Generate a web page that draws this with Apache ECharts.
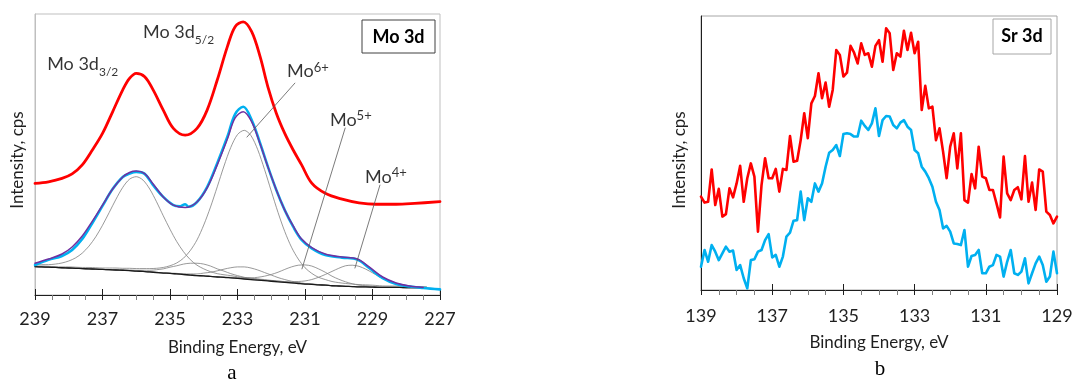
<!DOCTYPE html>
<html>
<head>
<meta charset="utf-8">
<script src="https://cdn.jsdelivr.net/npm/echarts/dist/echarts.min.js"></script>
<style>
  html, body { margin: 0; padding: 0; background: #ffffff; }
  #chart { width: 1075px; height: 383px; }
</style>
</head>
<body>
<div id="chart"></div>
<script>
// ---------- (a) Mo 3d spectrum ----------
// measured spectra, binding energy (eV) and intensity (arb. units, 0-100 scale)
const moRedBE = [239.0,238.6,238.2,237.9,237.6,237.3,237.0,236.7,236.4,236.2,236.0,235.75,235.5,235.2,234.9,234.55,234.2,233.9,233.6,233.3,233.07,232.83,232.58,232.33,232.1,231.85,231.6,231.35,231.1,230.8,230.4,229.9,229.4,228.9,228.3,227.75,227.0];
const moRedVal = [39.7,40.3,41.5,43.1,46.3,51.6,57.5,65.2,73.0,77.1,78.9,77.7,73.0,65.8,59.3,56.9,59.3,65.8,76.5,88.4,95.5,97.2,93.7,84.8,74.1,64.7,57.5,51.6,46.3,39.8,36.2,34.1,32.8,32.3,32.3,32.6,33.2];

const moBlueBE = [239.0,238.6,238.2,237.9,237.6,237.3,237.0,236.7,236.4,236.2,236.0,235.75,235.5,235.2,234.9,234.7,234.55,234.45,234.2,233.9,233.6,233.3,233.07,232.83,232.58,232.33,232.1,231.85,231.6,231.35,231.1,230.8,230.4,229.9,229.45,229.1,228.7,228.3,227.9,227.5,227.0];
const moBlueVal = [10.7,12.5,13.9,16.0,19.9,25.6,31.7,37.7,42.0,43.2,43.8,43.1,39.1,34.9,32.0,31.6,32.3,31.4,33.1,38.4,46.9,56.3,64.4,67.0,62.3,54.0,45.7,37.4,30.2,24.3,19.6,16.6,14.2,13.3,12.6,9.6,6.0,3.9,3.0,2.5,2.0];

// fitted envelope
const moFitBE = [239.0,238.6,238.2,237.9,237.6,237.3,237.0,236.7,236.4,236.2,236.0,235.75,235.5,235.2,234.9,234.55,234.2,233.9,233.6,233.3,233.07,232.83,232.58,232.33,232.1,231.85,231.6,231.35,231.1,230.8,230.4,229.9,229.45,229.1,228.7,228.3,227.9,227.5];
const moFitVal = [11.3,12.8,14.6,17.1,21.0,26.3,32.0,37.7,42.0,43.6,44.1,43.2,39.5,34.9,32.0,31.1,33.1,38.1,46.3,55.5,63.0,65.2,61.6,53.7,45.6,37.4,30.2,24.6,19.9,16.9,14.6,13.5,12.8,10.0,6.4,4.3,3.2,2.7];

// fit components on a common energy grid
const moGridBE = [
  239.0,238.8,238.6,238.4,238.2,238.0,237.8,237.6,237.4,237.2,
  237.0,236.8,236.6,236.4,236.2,236.0,235.8,235.6,235.4,235.2,
  235.0,234.8,234.6,234.4,234.2,234.0,233.8,233.6,233.4,233.2,
  233.0,232.8,232.6,232.4,232.2,232.0,231.8,231.6,231.4,231.2,
  231.0,230.8,230.6,230.4,230.2,230.0,229.8,229.6,229.4,229.2,
  229.0,228.8,228.6,228.4,228.2,228.0,227.8,227.6,227.4];
// Shirley-type background
const moBackground = [
  10.1,10.0,9.9,9.8,9.7,9.6,9.5,9.4,9.3,9.2,
  9.1,9.0,8.9,8.8,8.7,8.5,8.4,8.2,8.0,7.8,
  7.7,7.5,7.3,7.1,6.9,6.8,6.6,6.4,6.3,6.1,
  5.9,5.7,5.5,5.3,5.1,4.9,4.7,4.5,4.3,4.1,
  3.9,3.8,3.6,3.5,3.3,3.2,3.1,3.0,2.9,2.9,
  2.8,2.7,2.7,2.7,2.7,2.6,2.6,2.6,2.6];
// component heights above the background
const mo6Plus32 = [
  0.6,0.8,0.9,1.2,1.7,2.5,3.7,5.5,8.1,11.5,
  15.7,20.4,25.2,29.5,32.5,33.6,32.5,29.5,25.2,20.4,
  15.7,11.5,8.1,5.5,3.7,2.5,1.7,1.2,0.9,0.8,
  0.6,0.5,0.5,0.4,0.4,0.3,0.3,0.2,0.2,0.1,
  0,0,0,0,0,0,0,0,0,0,
  0,0,0,0,0,0,0,0,0];
const mo6Plus52 = [
  0.2,0.3,0.3,0.3,0.3,0.4,0.4,0.4,0.5,0.5,
  0.5,0.6,0.7,0.7,0.8,0.9,1.0,1.2,1.5,2.0,
  2.7,3.9,5.8,8.7,12.7,18.1,24.7,32.1,39.6,46.4,
  51.2,52.9,51.2,46.4,39.6,32.1,24.7,18.1,12.7,8.7,
  5.8,3.9,2.7,2.0,1.5,1.2,1.0,0.9,0.8,0.7,
  0.7,0.6,0.5,0.5,0.5,0.4,0.4,0.4,0.3];
const mo5Plus32 = [
  0,0,0,0,0,0,0,0,0,0,
  0,0,0.1,0.1,0.2,0.3,0.4,0.6,1.0,1.5,
  2.2,2.9,3.7,4.2,4.4,4.2,3.7,2.9,2.2,1.5,
  1.0,0.6,0.4,0.3,0.2,0.1,0.1,0,0,0,
  0,0,0,0,0,0,0,0,0,0,
  0,0,0,0,0,0,0,0,0];
const mo4Plus32 = [
  0,0,0,0,0,0,0,0,0,0,
  0,0,0,0,0,0,0,0,0,0.1,
  0.1,0.2,0.2,0.4,0.6,1.0,1.5,2.2,2.9,3.6,
  4.1,4.3,4.1,3.6,2.9,2.2,1.5,1.0,0.6,0.4,
  0.2,0.2,0.1,0.1,0,0,0,0,0,0,
  0,0,0,0,0,0,0,0,0];
const mo5Plus52 = [
  0,0,0,0,0,0,0,0,0,0,
  0,0,0,0,0,0,0,0,0,0,
  0,0,0,0,0,0,0,0.1,0.1,0.2,
  0.3,0.4,0.6,1.0,1.6,2.4,3.4,4.6,5.7,6.5,
  6.8,6.5,5.7,4.6,3.4,2.4,1.6,1.0,0.6,0.4,
  0.3,0.2,0.1,0.1,0,0,0,0,0];
const mo4Plus52 = [
  0,0,0,0,0,0,0,0,0,0,
  0,0,0,0,0,0,0,0,0,0,
  0,0,0,0,0,0,0,0,0,0,
  0,0,0,0,0.1,0.1,0.2,0.3,0.4,0.7,
  1.1,1.7,2.7,3.8,5.1,6.3,7.3,7.6,7.3,6.3,
  5.1,3.8,2.7,1.7,1.1,0.7,0.4,0.3,0.2];

// peak annotations: text, index text, index kind, anchor (BE, intensity)
const moLabelText = ['Mo 3d', 'Mo 3d', 'Mo', 'Mo', 'Mo'];
const moLabelIndex = ['3/2', '5/2', '6+', '5+', '4+'];
const moLabelKind = ['sub', 'sub', 'sup', 'sup', 'sup'];
const moLabelBE = [238.64, 235.80, 231.53, 230.26, 229.22];
const moLabelVal = [82.0, 93.4, 79.5, 62.3, 42.0];
// leader lines from the oxidation-state labels to their peaks
const moLeaderBE = [[231.30, 232.72], [229.81, 231.09], [228.78, 229.52]];
const moLeaderVal = [[75.4, 56.2], [59.4, 9.3], [39.1, 9.6]];

// ---------- (b) Sr 3d spectrum ----------
const srBE = [
  139.0,138.9,138.8,138.7,138.6,138.5,138.4,138.3,138.2,138.1,
  138.0,137.9,137.8,137.7,137.6,137.5,137.4,137.3,137.2,137.1,
  137.0,136.9,136.8,136.7,136.6,136.5,136.4,136.3,136.2,136.1,
  136.0,135.9,135.8,135.7,135.6,135.5,135.4,135.3,135.2,135.1,
  135.0,134.9,134.8,134.7,134.6,134.5,134.4,134.3,134.2,134.1,
  134.0,133.9,133.8,133.7,133.6,133.5,133.4,133.3,133.2,133.1,
  133.0,132.9,132.8,132.7,132.6,132.5,132.4,132.3,132.2,132.1,
  132.0,131.9,131.8,131.7,131.6,131.5,131.4,131.3,131.2,131.1,
  131.0,130.9,130.8,130.7,130.6,130.5,130.4,130.3,130.2,130.1,
  130.0,129.9,129.8,129.7,129.6,129.5,129.4,129.3,129.2,129.1,
  129.0];
const srRed = [
  34.1,31.9,32.2,44.0,31.0,36.9,26.8,27.7,37.1,33.8,
  38.9,45.3,32.2,40.8,46.2,41.4,21.3,38.3,48.1,40.8,
  40.8,44.2,35.9,44.2,43.8,56.2,46.8,47.2,54.7,64.5,
  55.4,68.1,70.8,79.1,70.0,75.7,66.9,73.0,87.6,85.8,
  77.9,79.3,89.1,86.6,82.7,90.0,85.8,86.4,81.5,89.1,
  91.2,83.3,95.5,93.7,80.3,86.4,85.2,94.6,87.6,93.9,
  86.4,90.6,65.7,74.5,66.3,66.9,54.7,59.0,50.5,40.8,
  52.3,57.2,44.4,57.2,32.8,31.9,42.3,37.1,52.3,41.4,
  40.8,36.5,36.5,31.6,26.5,48.7,35.3,32.8,36.5,37.5,
  33.1,48.9,32.2,39.2,29.2,44.0,43.2,28.6,27.4,24.3,
  26.8];
const srBlue = [
  8.5,14.6,10.3,16.4,14.0,10.9,13.4,15.8,14.0,14.4,
  7.3,9.1,4.3,0.6,10.9,11.2,14.0,14.6,18.2,20.4,
  11.9,12.8,8.5,12.2,19.5,20.9,25.3,25.5,35.9,25.5,
  33.5,32.2,38.9,35.9,38.9,45.0,50.1,51.1,52.9,48.9,
  56.9,57.2,56.9,56.0,56.0,61.8,59.9,58.4,60.8,66.3,
  56.2,62.0,63.5,63.3,60.2,59.0,61.1,62.0,59.6,58.4,
  51.1,49.9,45.0,43.2,40.8,37.7,32.2,29.2,22.5,23.4,
  21.3,17.0,16.8,16.4,21.9,8.5,12.4,12.8,14.6,6.1,
  6.1,8.5,9.1,12.8,12.2,4.9,10.3,14.6,6.1,5.5,
  6.7,11.6,2.4,6.1,9.7,12.2,9.1,3.0,4.9,14.0,
  6.1];

// ---------- helpers ----------
const FONT = 'Lato';
const INK = '#1f1f1f';
const pairs = (xs, ys) => xs.map((x, i) => [x, ys[i]]);
const onBackground = (h) => moGridBE.map((x, i) => [x, +(moBackground[i] + h[i]).toFixed(2)]);

function lineSeries(name, data, color, width, z, extra) {
  return Object.assign({
    name, type: 'line', data, z,
    xAxisIndex: 0, yAxisIndex: 0,
    showSymbol: false, symbol: 'none',
    lineStyle: { color, width, join: 'round', cap: 'round' },
    emphasis: { disabled: true }, silent: true
  }, extra || {});
}

function energyAxis(grid, lo, hi, withLabels) {
  const base = {
    gridIndex: grid, type: 'value', min: lo, max: hi, interval: 2, inverse: true,
    position: 'bottom', splitLine: { show: false }, minorSplitLine: { show: false }
  };
  if (withLabels) {
    return Object.assign(base, {
      axisLine: { show: true, onZero: false, lineStyle: { color: INK, width: 1 } },
      axisTick: { show: true, length: 5, lineStyle: { color: INK, width: 1 } },
      minorTick: { show: true, splitNumber: 4, length: 5, lineStyle: { color: '#7f7f7f', width: 1 } },
      axisLabel: { show: true, fontFamily: FONT, fontSize: 18, color: INK, margin: grid === 0 ? 15 : 17 },
      name: 'Binding Energy, eV', nameLocation: 'middle', nameGap: 44,
      nameTextStyle: { fontFamily: FONT, fontSize: 17, color: INK }
    });
  }
  // second copy of the scale: major ticks pointing into the plot
  return Object.assign(base, {
    axisLine: { show: false, onZero: false },
    axisTick: { show: true, inside: true, length: 6, lineStyle: { color: INK, width: 1 } },
    minorTick: { show: false },
    axisLabel: { show: false }
  });
}

const series = [];

// components, background, envelope, measured data
const componentList = [mo6Plus32, mo6Plus52, mo5Plus32, mo4Plus32, mo5Plus52, mo4Plus52];
componentList.forEach((c, k) => {
  series.push(lineSeries('comp' + k, onBackground(c), '#7f7f7f', 0.8, 2, { smooth: 0.3 }));
});
series.push(lineSeries('background', pairs(moGridBE, moBackground), '#1a1a1a', 1.3, 3, { smooth: 0.3 }));
series.push(lineSeries('measured', pairs(moBlueBE, moBlueVal), '#00b0f0', 2.6, 4, { smooth: 0.35 }));
series.push(lineSeries('envelope', pairs(moFitBE, moFitVal), '#7030a0', 1.5, 5, { smooth: 0.35 }));
series.push(lineSeries('as-prepared', pairs(moRedBE, moRedVal), '#ff0000', 2.8, 6, { smooth: 0.35 }));

moLeaderBE.forEach((xs, k) => {
  series.push(lineSeries('leader' + k, pairs(xs, moLeaderVal[k]), '#595959', 0.8, 7));
});

series.push({
  type: 'scatter', xAxisIndex: 0, yAxisIndex: 0, z: 8, silent: true,
  symbolSize: 0,
  data: moLabelBE.map((x, i) => ({ value: [x, moLabelVal[i]], name: String(i) })),
  label: {
    show: true, position: [0, 0], align: 'left', verticalAlign: 'middle',
    formatter: (p) => {
      const i = +p.name;
      const main = moLabelKind[i] === 'sub' ? 'm' : 'mp';
      return '{' + main + '|' + moLabelText[i] + '}{' + moLabelKind[i] + '|' + moLabelIndex[i] + '}';
    },
    rich: {
      m: { fontFamily: FONT, fontSize: 18, color: '#000', lineHeight: 28, verticalAlign: 'middle' },
      mp: { fontFamily: FONT, fontSize: 18, color: '#000', lineHeight: 21, verticalAlign: 'middle' },
      sub: { fontFamily: FONT, fontSize: 12, color: '#000', lineHeight: 12, verticalAlign: 'bottom' },
      sup: { fontFamily: FONT, fontSize: 13, color: '#000', lineHeight: 13, verticalAlign: 'top' }
    }
  }
});

// Sr 3d spectra
series.push(lineSeries('Sr blue', pairs(srBE, srBlue), '#00b0f0', 2.6, 4, { xAxisIndex: 2, yAxisIndex: 1 }));
series.push(lineSeries('Sr red', pairs(srBE, srRed), '#ff0000', 2.6, 5, { xAxisIndex: 2, yAxisIndex: 1 }));

const chart = echarts.init(document.getElementById('chart'), null, { renderer: 'canvas' });
chart.setOption({
  animation: false,
  backgroundColor: '#ffffff',
  grid: [
    { left: 35, top: 14, width: 405, height: 281, show: true, borderColor: '#bfbfbf', borderWidth: 1,
      backgroundColor: 'transparent', outerBoundsMode: 'none' },
    { left: 701, top: 16, width: 356, height: 274, show: true, borderColor: '#a6a6a6', borderWidth: 1,
      backgroundColor: 'transparent', outerBoundsMode: 'none' }
  ],
  xAxis: [
    energyAxis(0, 227, 239, true),
    energyAxis(0, 227, 239, false),
    energyAxis(1, 129, 139, true),
    energyAxis(1, 129, 139, false)
  ],
  yAxis: [
    { gridIndex: 0, type: 'value', min: 0, max: 100,
      axisLine: { show: true, lineStyle: { color: '#bfbfbf', width: 1 } },
      axisTick: { show: false }, axisLabel: { show: false }, splitLine: { show: false } },
    { gridIndex: 1, type: 'value', min: 0, max: 100,
      axisLine: { show: true, lineStyle: { color: INK, width: 1 } },
      axisTick: { show: false }, axisLabel: { show: false }, splitLine: { show: false } }
  ],
  series,
  graphic: [
    { type: 'text', z: 10, silent: true,
      x: 18, y: 160, rotation: Math.PI / 2,
      style: { text: 'Intensity, cps', font: '17px Lato', fill: INK, align: 'center', verticalAlign: 'middle' } },
    { type: 'text', z: 10, silent: true,
      x: 680, y: 160, rotation: Math.PI / 2,
      style: { text: 'Intensity, cps', font: '17px Lato', fill: INK, align: 'center', verticalAlign: 'middle' } },
    { type: 'rect', z: 10, silent: true, shape: { x: 362, y: 20, width: 73, height: 33 },
      style: { fill: '#ffffff', stroke: '#404040', lineWidth: 1 } },
    { type: 'text', z: 11, silent: true, x: 398.5, y: 37,
      style: { text: 'Mo 3d', font: 'bold 18px Lato', fill: '#000', align: 'center', verticalAlign: 'middle' } },
    { type: 'rect', z: 10, silent: true, shape: { x: 993, y: 19, width: 58, height: 35 },
      style: { fill: '#ffffff', stroke: '#a6a6a6', lineWidth: 1 } },
    { type: 'text', z: 11, silent: true, x: 1022, y: 36.5,
      style: { text: 'Sr 3d', font: 'bold 18px Lato', fill: '#000', align: 'center', verticalAlign: 'middle' } },
    { type: 'text', z: 10, silent: true, x: 232, y: 373,
      style: { text: 'a', font: '21px "Liberation Serif"', fill: '#000', align: 'center', verticalAlign: 'middle' } },
    { type: 'text', z: 10, silent: true, x: 880, y: 369,
      style: { text: 'b', font: '21px "Liberation Serif"', fill: '#000', align: 'center', verticalAlign: 'middle' } }
  ]
});
</script>
</body>
</html>
